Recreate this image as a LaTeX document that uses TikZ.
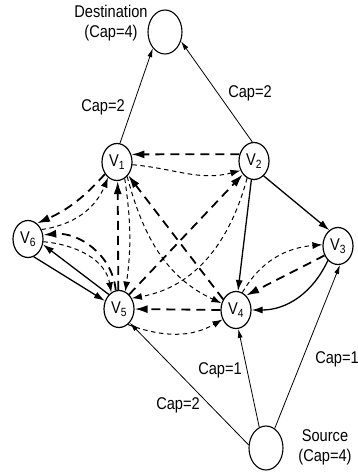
\documentclass[tikz,border=0pt]{standalone}
\usepackage{fontspec}
\setmainfont{Liberation Sans}[FakeStretch=0.86]
\usetikzlibrary{shapes.geometric,arrows.meta}

\begin{document}
\begin{tikzpicture}[x=1pt,y=-1pt,
  vnode/.style={ellipse, draw, line width=1.2pt, minimum width=30pt, minimum height=37pt,
                inner sep=0pt, font=\fontsize{17}{20}\selectfont},
  endnode/.style={ellipse, draw, line width=1.1pt, minimum width=34pt, minimum height=44pt, inner sep=0pt},
  lbl/.style={font=\fontsize{17}{20}\selectfont, align=center, inner sep=0pt},
  caparc/.style={line width=0.8pt, -{Latex[length=9pt,width=5pt]}},
  flow/.style={line width=1.3pt, -{Latex[length=11pt,width=7pt]}},
  fwd/.style={line width=1.8pt, dash pattern=on 9pt off 6pt, -{Latex[length=13pt,width=8pt]}},
  bwd/.style={line width=1pt, dash pattern=on 4.5pt off 3.5pt, -{Latex[length=10pt,width=7pt]}}]
\useasboundingbox (0,0) rectangle (358,475);

% terminals
\node[endnode] (Dest) at (165,32) {};
\node[endnode] (Src) at (266,448) {};
\node[lbl] (DestL) at (111,23) {Destination\\(Cap=4)};
\node[lbl] (SrcL) at (325,447) {Source\\(Cap=4)};

% inner vertices
\node[vnode] (V1) at (117,162) {V\textsubscript{1}};
\node[vnode] (V2) at (254,161) {V\textsubscript{2}};
\node[vnode] (V3) at (338,246) {V\textsubscript{3}};
\node[vnode] (V4) at (236,310) {V\textsubscript{4}};
\node[vnode] (V5) at (119,309) {V\textsubscript{5}};
\node[vnode] (V6) at (28,239) {V\textsubscript{6}};

% capacity labels
\node[lbl] (c1) at (103,107) {Cap=2};
\node[lbl] (c2) at (250,93) {Cap=2};
\node[lbl] (c3) at (220,370) {Cap=1};
\node[lbl] (c4) at (178,405) {Cap=2};
\node[lbl] (c5) at (337,359) {Cap=1};

% capacity arcs
\draw[caparc] (V1.81) -- (Dest.233);
\draw[caparc] (V2.95) -- (Dest.-30);
\draw[caparc] (Src.170) -- (V5.-52);
\draw[caparc] (Src.108) -- (V4.-83);
\draw[caparc] (Src.66) -- (V3.-84);

% solid flow arcs
\draw[flow] (V2.-57) -- (V3.119);
\draw[flow] (V2.-98) -- (V4.84);
\draw[flow] (V3.235) to[out=-115,in=0] (V4.0);
\draw[flow] (V6.-72) -- (V5.150);
\draw[flow] (V5.125) -- (V6.-20);

% bold dashed arcs
\draw[fwd] (V2.155) -- (V1.28);
\draw[fwd] (V1.225) to[bend left=12] (V6.60);
\draw[fwd] (V5.92) -- (V1.-88);
\draw[fwd] (V4.140) -- (V1.-50);
\draw[fwd] (V5.55) -- (V2.-130);
\draw[fwd] (V3.215) -- (V4.55);
\draw[fwd] (V4.180) -- (V5.0);
\draw[fwd] (V5.100) to[out=95,in=5] (V6.15);

% light dashed arcs
\draw[bwd] (V1.-10) to[out=-5,in=195] (V2.215);
\draw[bwd] (V6.35) to[bend right=30] (V1.240);
\draw[bwd] (V1.-65) to[bend left=8] (V5.70);
\draw[bwd] (V1.-55) to[out=-75,in=155] (V4.155);
\draw[bwd] (V2.-112) to[out=-105,in=10] (V5.40);
\draw[bwd] (V4.70) to[out=60,in=185] (V3.175);
\draw[bwd] (V5.-60) to[out=-20,in=-150] (V4.-145);
\draw[bwd] (V6.-10) to[out=-5,in=100] (V5.115);
\end{tikzpicture}
\end{document}
